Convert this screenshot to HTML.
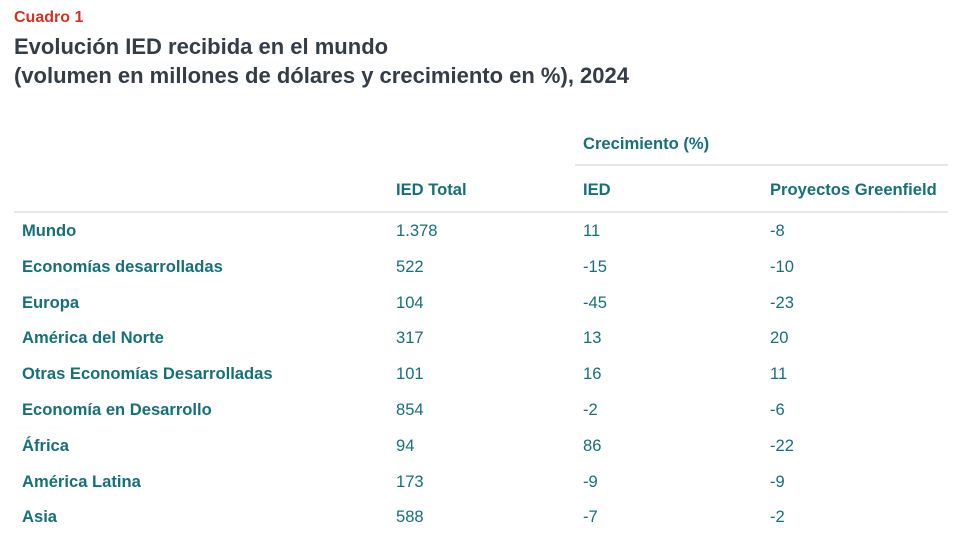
<!DOCTYPE html>
<html><head><meta charset="utf-8"><style>
body{margin:0;width:967px;height:543px;background:#fff;position:relative;overflow:hidden;font-family:"Liberation Sans",sans-serif;}
.a{position:absolute;white-space:nowrap}
.t{color:#333d47;font-weight:bold;font-size:22px}
.h,.c,.r{color:#15707a;font-size:17px;transform:scaleX(0.975);transform-origin:0 0}
.h,.r{font-weight:bold}
.ln{position:absolute;height:2px;background:#e6e6e6}
</style></head><body>
<div class="a" style="left:14px;top:9px;color:#d9301f;font-weight:bold;font-size:16px">Cuadro 1</div>
<div class="a t" style="left:14px;top:34px">Evolución IED recibida en el mundo</div>
<div class="a t" style="left:14px;top:63px">(volumen en millones de dólares y crecimiento en %), 2024</div>
<div class="a h" style="left:583px;top:134px">Crecimiento (%)</div>
<div class="ln" style="left:575px;top:164px;width:373px"></div>
<div class="a h" style="left:396px;top:180px">IED Total</div>
<div class="a h" style="left:583px;top:180px">IED</div>
<div class="a h" style="left:770px;top:180px">Proyectos Greenfield</div>
<div class="ln" style="left:14px;top:211px;width:934px"></div>
<div id="rows"></div>
<script>
const regions=["Mundo","Economías desarrolladas","Europa","América del Norte","Otras Economías Desarrolladas","Economía en Desarrollo","África","América Latina","Asia"];
const iedTotal=["1.378","522","104","317","101","854","94","173","588"];
const iedGrowth=[11,-15,-45,13,16,-2,86,-9,-7];
const greenfield=[-8,-10,-23,20,11,-6,-22,-9,-2];
const host=document.getElementById('rows');
regions.forEach((r,i)=>{
  const y=221+i*35.8;
  const cells=[[r,22,'r'],[iedTotal[i],396,'c'],[String(iedGrowth[i]),583,'c'],[String(greenfield[i]),770,'c']];
  cells.forEach((c,j)=>{
    const d=document.createElement('div');
    d.className='a '+c[2];
    d.style.left=c[1]+'px';d.style.top=y+'px';
    d.textContent=c[0];
    
    
    host.appendChild(d);
  });
});
</script>
</body></html>
